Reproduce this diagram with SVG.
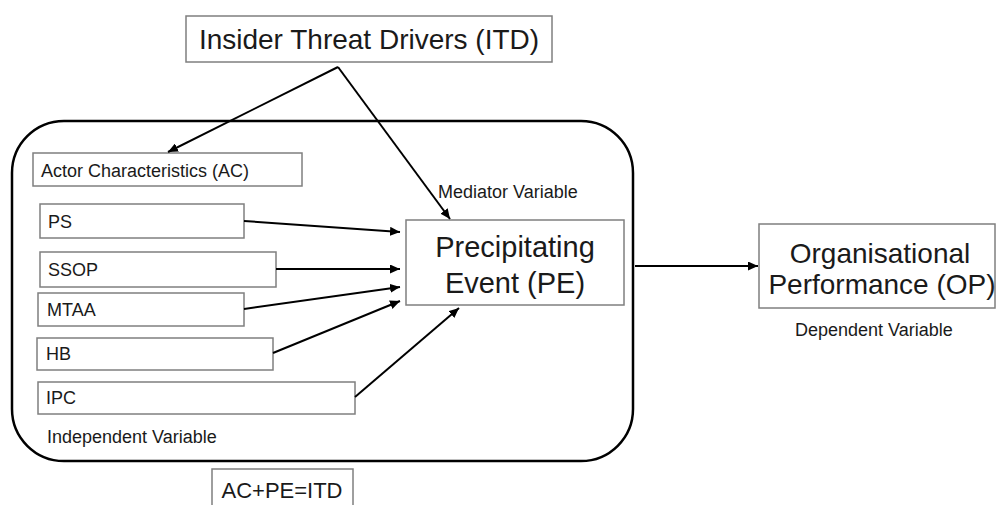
<svg xmlns="http://www.w3.org/2000/svg" width="996" height="505" viewBox="0 0 996 505">
<defs>
<marker id="arr" markerWidth="11" markerHeight="9" refX="10" refY="4.5" orient="auto" markerUnits="userSpaceOnUse">
<path d="M0,0 L10,4.5 L0,9 Z" fill="#000"/>
</marker>
<style>
.box{fill:#fff;stroke:#7f7f7f;stroke-width:1.5}
.t{font-family:"Liberation Sans",Arial,sans-serif;fill:#1a1a1a}
.s{font-size:18px}
.b{font-size:28px}
.c{stroke:#000;stroke-width:2;fill:none;marker-end:url(#arr)}
</style>
</defs>
<rect width="996" height="505" fill="#fff"/>
<g id="container">
<rect x="12" y="121" width="621" height="340" rx="52" ry="52" fill="none" stroke="#000" stroke-width="2.5"/>
<text class="t s" x="47" y="443">Independent Variable</text>
<text class="t s" x="438" y="198">Mediator Variable</text>
</g>
<g id="itd">
<rect class="box" x="186" y="16" width="366" height="46"/>
<text class="t b" x="369" y="49" text-anchor="middle">Insider Threat Drivers (ITD)</text>
</g>
<g id="ac">
<rect class="box" x="33" y="153" width="269" height="33"/>
<text class="t s" x="41" y="177">Actor Characteristics (AC)</text>
</g>
<g id="ps">
<rect class="box" x="40" y="204" width="204" height="34"/>
<text class="t s" x="48" y="228">PS</text>
</g>
<g id="ssop">
<rect class="box" x="40" y="252" width="236" height="35"/>
<text class="t s" x="48" y="276">SSOP</text>
</g>
<g id="mtaa">
<rect class="box" x="38" y="293" width="206" height="33"/>
<text class="t s" x="47" y="316">MTAA</text>
</g>
<g id="hb">
<rect class="box" x="37" y="338" width="236" height="32"/>
<text class="t s" x="46" y="360">HB</text>
</g>
<g id="ipc">
<rect class="box" x="38" y="382" width="317" height="32"/>
<text class="t s" x="46" y="404">IPC</text>
</g>
<g id="pe">
<rect class="box" x="406" y="220" width="218" height="85"/>
<text class="t" font-size="29" x="515" y="257" text-anchor="middle">Precipitating</text>
<text class="t" font-size="29" x="515" y="293" text-anchor="middle">Event (PE)</text>
</g>
<g id="op">
<rect class="box" x="759" y="224" width="236" height="84"/>
<text class="t b" x="880" y="263" text-anchor="middle">Organisational</text>
<text class="t b" x="882" y="294" text-anchor="middle">Performance (OP)</text>
<text class="t s" x="795" y="336">Dependent Variable</text>
</g>
<g id="formula">
<rect class="box" x="212" y="469" width="141" height="44"/>
<text class="t" font-size="22" x="282" y="498" text-anchor="middle">AC+PE=ITD</text>
</g>
<g id="connectors">
<path class="c" d="M338,67 L168,152"/>
<path class="c" d="M338,67 L450,219"/>
<path class="c" d="M244,221 L400,232"/>
<path class="c" d="M276,269 L400,269"/>
<path class="c" d="M244,309 L400,287"/>
<path class="c" d="M273,353 L400,301"/>
<path class="c" d="M355,397 L459,308"/>
<path class="c" d="M635,266 L758,266"/>
</g>
</svg>
